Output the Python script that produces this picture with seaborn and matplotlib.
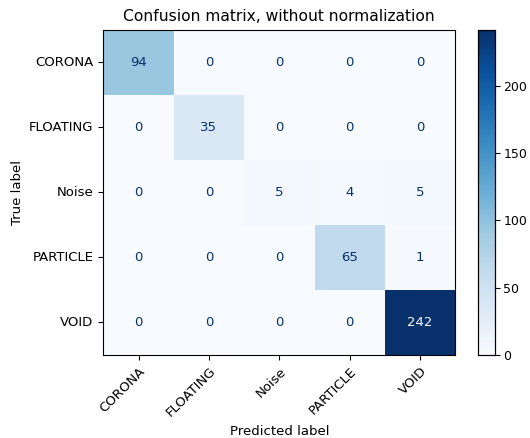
import numpy as np
import pandas as pd
import matplotlib
matplotlib.use("Agg")
import matplotlib.pyplot as plt
import seaborn as sns

labels = ["CORONA", "FLOATING", "Noise", "PARTICLE", "VOID"]
row_corona = [94, 0, 0, 0, 0]
row_floating = [0, 35, 0, 0, 0]
row_noise = [0, 0, 5, 4, 5]
row_particle = [0, 0, 0, 65, 1]
row_void = [0, 0, 0, 0, 242]

cm = np.array([row_corona, row_floating, row_noise, row_particle, row_void])
df = pd.DataFrame(cm, index=labels, columns=labels)

fig = plt.figure(figsize=(5.30, 4.38), dpi=100)
ax = fig.add_axes([0.195, 0.19, 0.664, 0.742])
cax = fig.add_axes([0.902, 0.19, 0.032, 0.742])

cmap = plt.get_cmap("Blues")
sns.heatmap(df, ax=ax, cbar_ax=cax, cmap=cmap, vmin=0, vmax=cm.max(),
            annot=True, fmt="d", annot_kws={"fontsize": 9.5},
            linewidths=0, square=False)

thresh = (cm.max() + cm.min()) / 2.0
vals = cm.flatten()
for t, v in zip(ax.texts, vals):
    t.set_color(cmap(0.0) if v >= thresh else cmap(1.0))

for s in ax.spines.values():
    s.set_visible(True)
    s.set_linewidth(0.8)
    s.set_color("black")
cax.set_frame_on(True)
for s in cax.spines.values():
    s.set_visible(True)
    s.set_linewidth(0.8)
cax.tick_params(labelsize=9, length=3.5, width=0.8, pad=2.5)
cax.set_yticks([0, 50, 100, 150, 200])

ax.tick_params(axis="both", labelsize=9.5, length=3.5, width=0.8)
ax.set_xticklabels(labels, rotation=45, ha="right", rotation_mode="anchor")
ax.set_yticklabels(labels, rotation=0)
ax.set_xlabel("Predicted label", fontsize=9.5)
ax.set_ylabel("True label", fontsize=9.5)
ax.set_title("Confusion matrix, without normalization", fontsize=11.2)

fig.savefig("out.png", dpi=100)
